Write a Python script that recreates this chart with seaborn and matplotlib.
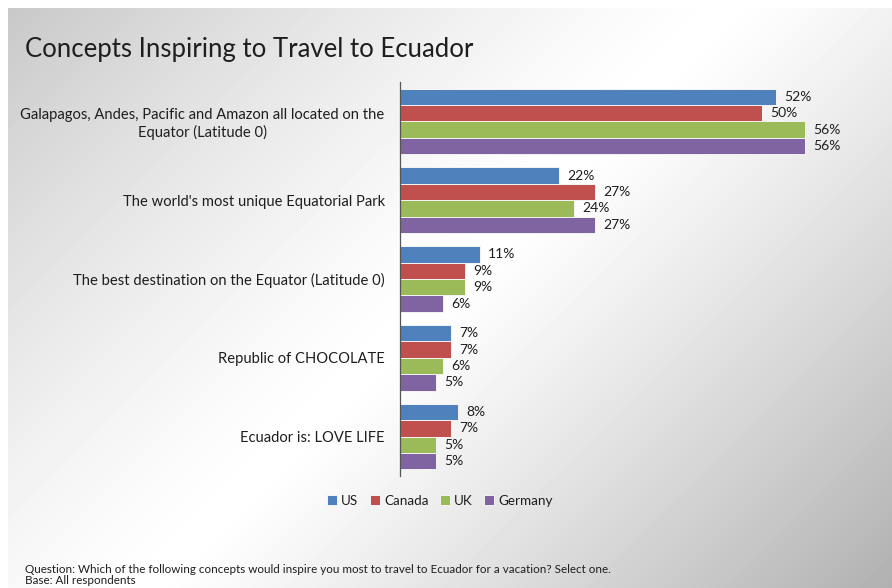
import numpy as np
import pandas as pd
import matplotlib
matplotlib.use("Agg")
import matplotlib.pyplot as plt
import seaborn as sns

# Survey results: share of respondents picking each concept, by country (%)
concepts = [
    "Galapagos, Andes, Pacific and Amazon all located on the\nEquator (Latitude 0)",
    "The world's most unique Equatorial Park",
    "The best destination on the Equator (Latitude 0)",
    "Republic of CHOCOLATE",
    "Ecuador is: LOVE LIFE",
]
countries = ["US", "Canada", "UK", "Germany"]
us = [52, 22, 11, 7, 8]
canada = [50, 27, 9, 7, 7]
uk = [56, 24, 9, 6, 5]
germany = [56, 27, 6, 5, 5]
colors = ["#4F81BD", "#C0504D", "#9BBB59", "#8064A2"]

title = "Concepts Inspiring to Travel to Ecuador"
footnote = ("Question: Which of the following concepts would inspire you most to "
            "travel to Ecuador for a vacation? Select one.\nBase: All respondents")

series = [us, canada, uk, germany]
df = pd.DataFrame({
    "concept": [c for _ in countries for c in concepts],
    "country": [k for k in countries for _ in concepts],
    "pct": [v for s in series for v in s],
})

sns.set_theme(style="white")
plt.rcParams["font.family"] = ["Lato", "DejaVu Sans"]
text_color = "#1e1e1e"

W, H = 892, 588
fig = plt.figure(figsize=(W / 100, H / 100), dpi=100)

# Slide background: diagonal grey-white-grey gradient with a thin white margin
yy, xx = np.mgrid[0:H, 0:W]
u = 0.6 * xx / W + 0.4 * yy / H
c = 0.5
left = 1 - 0.22 * np.clip((c - u) / c, 0, None) ** 1.3
right = 1 - 0.31 * np.clip((u - c) / (1 - c), 0, None) ** 1.15
bg = np.where(u < c, left, right)
bg[:8, :] = 1.0
bg[:, :8] = 1.0
bg_ax = fig.add_axes([0, 0, 1, 1], zorder=-10)
bg_ax.imshow(bg, cmap="gray", vmin=0, vmax=1, aspect="auto", interpolation="bilinear")
bg_ax.axis("off")

ax = fig.add_axes([400 / W, 1 - 476 / H, 434 / W, 394 / H])
ax.patch.set_alpha(0)

sns.barplot(data=df, x="pct", y="concept", hue="country", hue_order=countries,
            order=concepts, palette=colors, saturation=1, orient="h", width=0.83,
            edgecolor="#f4f4f4", linewidth=0.7, ax=ax, legend=True)

for cont in ax.containers:
    ax.bar_label(cont, fmt="%d%%", padding=6, fontsize=10, color=text_color)

ax.set_xlim(0, 60)
ax.set_ylim(4.5, -0.5)
ax.set_xlabel("")
ax.set_ylabel("")
ax.set_xticks([])
ax.tick_params(axis="y", length=0, pad=11, labelsize=10.6, labelcolor=text_color)
for lbl in ax.get_yticklabels():
    lbl.set_multialignment("center")
for side in ["top", "right", "bottom"]:
    ax.spines[side].set_visible(False)
ax.spines["left"].set_color("#555555")
ax.spines["left"].set_linewidth(0.9)

handles, labels = ax.get_legend_handles_labels()
ax.get_legend().remove()
fig.legend(handles, labels, loc="center", bbox_to_anchor=(440 / W, 1 - 501 / H),
           ncol=4, frameon=False, fontsize=9.7, handlelength=0.75, handleheight=0.75,
           handletextpad=0.3, columnspacing=0.85, labelcolor=text_color)

fig.text(25 / W, 1 - 57 / H, title, fontsize=18.5, color=text_color, ha="left",
         va="baseline")
fig.text(25 / W, 1 - 586 / H, footnote, fontsize=8.4, color=text_color, ha="left",
         va="bottom", linespacing=1.0)

fig.savefig("out.png", dpi=100)
